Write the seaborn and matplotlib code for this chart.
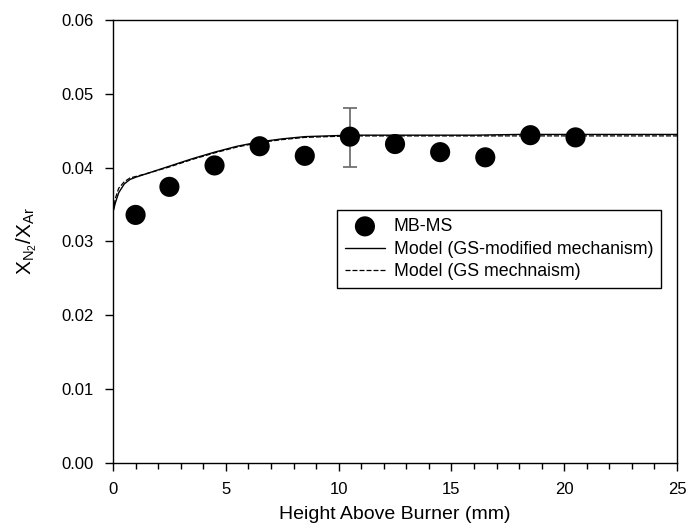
import numpy as np
import pandas as pd
import matplotlib
matplotlib.use("Agg")
import matplotlib.pyplot as plt
from matplotlib.ticker import MultipleLocator, FormatStrFormatter
import seaborn as sns

# measured points (MB-MS)
hab_exp = [1.0, 2.5, 4.5, 6.5, 8.5, 10.5, 12.5, 14.5, 16.5, 18.5, 20.5]
ratio_exp = [0.0336, 0.0374, 0.0403, 0.0429, 0.0416, 0.0442, 0.0432, 0.0421, 0.0414, 0.0444, 0.0441]
# single error bar at 10.5 mm
err_x = [10.5]
err_y = [0.0442]
err_lo = [0.0041]
err_hi = [0.0039]

# model curves
hab_model = [0, 0.1, 0.25, 0.5, 0.75, 1.0, 1.5, 2.5, 3.5, 4.5, 5.5, 6.5, 7.5, 8.5,
             9.5, 10.5, 12, 14, 16, 18, 20, 22, 25]
ratio_gs_mod = [0.0340, 0.0352, 0.0366, 0.0378, 0.0384, 0.0387, 0.0392, 0.0402, 0.0412,
                0.0421, 0.0429, 0.0435, 0.0439, 0.0442, 0.0443, 0.0444, 0.0444, 0.0444,
                0.0444, 0.0445, 0.0445, 0.0445, 0.0445]
ratio_gs = [0.0340, 0.0358, 0.0372, 0.0381, 0.0386, 0.0388, 0.0392, 0.0401, 0.0411,
            0.0420, 0.0428, 0.0434, 0.0438, 0.0441, 0.0442, 0.0443, 0.0443, 0.0443,
            0.0443, 0.0443, 0.0443, 0.0443, 0.0443]

sns.set_style("ticks")
plt.rcParams["font.family"] = ["Liberation Sans", "DejaVu Sans"]
plt.rcParams["mathtext.fontset"] = "custom"
plt.rcParams["mathtext.rm"] = "Liberation Sans"
plt.rcParams["mathtext.it"] = "Liberation Sans"
plt.rcParams["text.color"] = "black"
plt.rcParams["axes.labelcolor"] = "black"
plt.rcParams["xtick.color"] = "black"
plt.rcParams["ytick.color"] = "black"

df_exp = pd.DataFrame({"hab": hab_exp, "ratio": ratio_exp})
df_model = pd.DataFrame({"hab": hab_model, "mod": ratio_gs_mod, "gs": ratio_gs})

fig = plt.figure(figsize=(6.9, 5.29), dpi=100)
ax = fig.add_axes([0.1638, 0.1248, 0.8174, 0.8374])

ax.errorbar(err_x, err_y, yerr=[err_lo, err_hi], fmt="none", ecolor="#666666",
            elinewidth=1.2, capsize=5, capthick=1.2, zorder=2)
sns.lineplot(data=df_model, x="hab", y="mod", ax=ax, color="black", linewidth=1.0,
             label="Model (GS-modified mechanism)", zorder=3)
sns.lineplot(data=df_model, x="hab", y="gs", ax=ax, color="black", linewidth=0.9,
             linestyle=(0, (4, 1.6)), label="Model (GS mechnaism)", zorder=3)
sns.scatterplot(data=df_exp, x="hab", y="ratio", ax=ax, color="black", s=210,
                edgecolor="none", label="MB-MS", zorder=4)

ax.set_xlim(0, 25)
ax.set_ylim(0, 0.06)
ax.xaxis.set_major_locator(MultipleLocator(5))
ax.xaxis.set_minor_locator(MultipleLocator(1))
ax.yaxis.set_major_locator(MultipleLocator(0.01))
ax.yaxis.set_major_formatter(FormatStrFormatter("%.2f"))
ax.tick_params(axis="both", which="major", direction="out", length=6, width=1,
               labelsize=12, pad=8, color="black", labelcolor="black")
ax.tick_params(axis="x", which="minor", direction="out", length=4, width=1, color="black")
for sp in ax.spines.values():
    sp.set_color("black")
    sp.set_linewidth(1.0)

ax.set_xlabel("Height Above Burner (mm)", fontsize=14, labelpad=6)
ax.set_ylabel(r"$\mathregular{X_{N_2}/X_{Ar}}$", fontsize=15, labelpad=16)

handles, labels = ax.get_legend_handles_labels()
order = [labels.index("MB-MS"), labels.index("Model (GS-modified mechanism)"),
         labels.index("Model (GS mechnaism)")]
leg = ax.legend([handles[i] for i in order], [labels[i] for i in order],
                loc="upper left", bbox_to_anchor=(0.397, 0.571), borderaxespad=0,
                fontsize=12.8, frameon=True, fancybox=False, edgecolor="black",
                framealpha=1, handlelength=2.25, handletextpad=0.5,
                labelspacing=0.32, borderpad=0.45, markerscale=1.0)
leg.get_frame().set_linewidth(1.0)

fig.savefig("out.png", dpi=100)
